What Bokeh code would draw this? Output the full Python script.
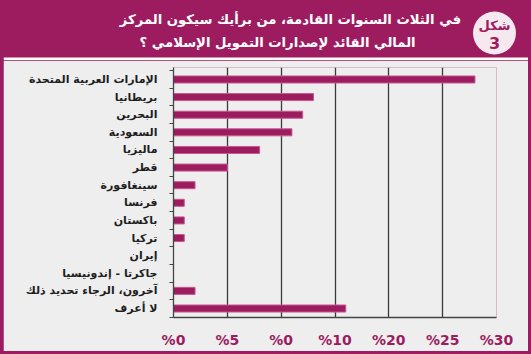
from bokeh.plotting import figure
from bokeh.layouts import column
from bokeh.models import Range1d, FixedTicker, ColumnDataSource
from bokeh.core.properties import value
from bokeh.embed import file_html
from bokeh.resources import INLINE

# ---- data ----
categories = ["الإمارات العربية المتحدة", "بريطانيا", "البحرين", "السعودية", "ماليزيا",
              "قطر", "سينغافورة", "فرنسا", "باكستان", "تركيا", "إيران",
              "جاكرتا - إندونيسيا", "آخرون، الرجاء تحديد ذلك", "لا أعرف"]
values = [28, 13, 12, 11, 8, 5, 2, 1, 1, 1, 0, 0, 2, 16]
x_ticks = [0, 5, 10, 15, 20, 25, 30]
x_tick_labels = ["%0", "%5", "%0", "%10", "%20", "%25", "%30"]
title_lines = ["في الثلاث السنوات القادمة، من برأيك سيكون المركز",
               "المالي القائد لإصدارات التمويل الإسلامي ؟"]
badge_word = "شكل"
badge_num = "3"

MAG = "#9c1c5f"
FONT = "DejaVu Sans"

# ---------------- header ----------------
h = figure(width=525, height=60, output_backend="svg", toolbar_location=None,
           x_range=Range1d(3, 528), y_range=Range1d(60, 0),
           x_axis_location=None, y_axis_location=None,
           min_border_left=0, min_border_right=0, min_border_top=0, min_border_bottom=0)
h.title.visible = False
h.outline_line_color = None
h.background_fill_color = MAG
h.border_fill_color = MAG
h.grid.grid_line_color = None
h.quad(left=[3], right=[528], top=[57], bottom=[60], fill_color="white", line_color=None)
h.ellipse(x=[494], y=[32.5], width=43, height=43, fill_color="#f6e8ef", line_color=None)
h.text(x=[290, 277], y=[19, 42], text=title_lines, text_align="center", text_baseline="middle",
       text_color="white", text_font=value(FONT), text_font_style="bold", text_font_size="13.2px")
h.text(x=[494], y=[25], text=[badge_word], text_align="center", text_baseline="middle",
       text_color=MAG, text_font=value(FONT), text_font_style="bold", text_font_size="13px")
h.text(x=[494], y=[42], text=[badge_num], text_align="center", text_baseline="middle",
       text_color=MAG, text_font=value(FONT), text_font_style="bold", text_font_size="16px")

# ---------------- chart ----------------
idx = list(range(len(categories)))
src = ColumnDataSource(dict(y=idx, v=values))

p = figure(width=525, height=291, output_backend="svg", toolbar_location=None,
           x_range=Range1d(0, 30), y_range=Range1d(len(categories) - 0.49, -0.68),
           min_border_left=170, min_border_right=32, min_border_top=7, min_border_bottom=34)
p.title.visible = False
p.background_fill_color = "#eeeeee"
p.border_fill_color = "#eeeeee"
p.outline_line_color = None

p.hbar(y="y", left=0, right="v", height=0.4, source=src,
       fill_color=MAG, line_color="#c45a92", line_width=1)

p.xaxis.ticker = FixedTicker(ticks=x_ticks)
p.xaxis.major_label_overrides = {t: l for t, l in zip(x_ticks, x_tick_labels)}
p.xaxis.major_label_text_font = FONT
p.xaxis.major_label_text_font_style = "bold"
p.xaxis.major_label_text_font_size = "14px"
p.xaxis.major_label_text_color = MAG
p.xaxis.major_label_standoff = 14
p.xaxis.axis_line_color = "#444444"
p.xaxis.axis_line_width = 1.3
p.xaxis.major_tick_in = 0
p.xaxis.major_tick_out = 0
p.xaxis.minor_tick_line_color = None

p.xgrid.ticker = FixedTicker(ticks=x_ticks)
p.xgrid.grid_line_color = "#3a3a3a"
p.xgrid.grid_line_width = 1.3
p.ygrid.grid_line_color = None

bounds = [i - 0.5 for i in range(len(categories) + 1)]
p.yaxis.ticker = FixedTicker(ticks=idx, minor_ticks=bounds)
p.yaxis.major_label_overrides = {i: c for i, c in zip(idx, categories)}
p.yaxis.major_label_text_font = FONT
p.yaxis.major_label_text_font_style = "bold"
p.yaxis.major_label_text_font_size = "11px"
p.yaxis.major_label_text_color = "#1e1e1e"
p.yaxis.major_label_standoff = 12
p.yaxis.major_tick_line_color = None
p.yaxis.major_tick_in = 0
p.yaxis.major_tick_out = 0
p.yaxis.minor_tick_line_color = "#444444"
p.yaxis.minor_tick_in = 0
p.yaxis.minor_tick_out = 4
p.yaxis.axis_line_color = "#444444"
p.yaxis.axis_line_width = 1.3

layout = column(column(h), p, spacing=0,
                styles={"background-color": MAG, "padding": "0px 3px 3px 3px"})

open("out.html", "w").write(file_html(layout, INLINE))
